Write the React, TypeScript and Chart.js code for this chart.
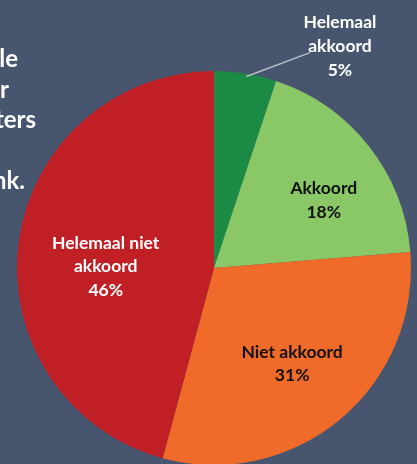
import React, { useEffect, useRef } from "react";
import { Chart, registerables } from "chart.js";

Chart.register(...registerables);

const categories = ["Helemaal akkoord", "Akkoord", "Niet akkoord", "Helemaal niet akkoord"];
const labelLines = [["Helemaal", "akkoord"], ["Akkoord"], ["Niet akkoord"], ["Helemaal niet", "akkoord"]];
const values = [5.1, 18.6, 30.5, 45.8];
const percentLabels = ["5%", "18%", "31%", "46%"];
const sliceColors = ["#1b8a45", "#8ac766", "#f06b29", "#c01f25"];
const labelColors = ["#ffffff", "#111111", "#111111", "#ffffff"];
const sideText = ["le", "r", "ters", "", "nk."];

const BG = "#47566e";

const labelPlugin = {
  id: "sliceLabels",
  afterDraw(chart: any) {
    const ctx = chart.ctx;
    const meta = chart.getDatasetMeta(0);
    ctx.save();
    // side text (cropped slide text)
    ctx.fillStyle = "#ffffff";
    ctx.font = "bold 24px Lato, sans-serif";
    ctx.textAlign = "right";
    ctx.textBaseline = "alphabetic";
    const sideRight = [18, 9, 36, 0, 25];
    sideText.forEach((t, i) => {
      if (!t) return;
      ctx.fillText(t, sideRight[i], 67 + i * 30.5);
    });

    const radial = [1.295, 0.66, 0.62, 0.55];
    const angOff = [0.356, 0.1, 0, -0.1];
    const lineH = [24, 24, 22.5, 23.5];
    meta.data.forEach((arc: any, i: number) => {
      const { x, y, startAngle, endAngle, outerRadius } = arc.getProps(
        ["x", "y", "startAngle", "endAngle", "outerRadius"],
        true
      );
      const mid = (startAngle + endAngle) / 2 + angOff[i];
      const r = outerRadius * radial[i];
      const cx = x + Math.cos(mid) * r;
      const cy = y + Math.sin(mid) * r + 2;
      const lines = [...labelLines[i], percentLabels[i]];
      ctx.font = "bold 17.5px Lato, sans-serif";
      ctx.textAlign = "center";
      ctx.textBaseline = "middle";
      ctx.fillStyle = labelColors[i];
      const top = cy - ((lines.length - 1) * lineH[i]) / 2 - (i === 0 ? 1.5 : 0);
      lines.forEach((l, j) => ctx.fillText(l, cx, top + j * lineH[i]));
      if (i === 0) {
        // leader line
        const ea = (startAngle + endAngle) / 2;
        const sx = x + Math.cos(ea) * outerRadius;
        const sy = y + Math.sin(ea) * outerRadius;
        ctx.strokeStyle = "#b7bec8";
        ctx.lineWidth = 1.5;
        ctx.beginPath();
        ctx.moveTo(sx + 1, sy + 3);
        ctx.lineTo(cx - 30, top + lineH[i] + 6);
        ctx.stroke();
      }
    });
    ctx.restore();
  },
};

export default function App() {
  const ref = useRef<HTMLCanvasElement>(null);
  useEffect(() => {
    document.body.style.margin = "0";
    document.body.style.overflow = "hidden";
    document.documentElement.style.overflow = "hidden";
    const chart = new Chart(ref.current!, {
      type: "pie",
      data: {
        labels: categories,
        datasets: [
          {
            data: values,
            backgroundColor: sliceColors,
            borderWidth: 0,
          },
        ],
      },
      options: {
        animation: false,
        responsive: false,
        maintainAspectRatio: false,
        layout: { padding: { left: 17, right: 6, top: 71, bottom: 15 } },
        plugins: {
          legend: { display: false },
          tooltip: { enabled: false },
        },
      },
      plugins: [labelPlugin],
    });
    return () => chart.destroy();
  }, []);
  return (
    <div style={{ position: "fixed", left: 0, top: 0, width: 417, height: 480, background: BG, overflow: "hidden" }}>
      <canvas ref={ref} width={417} height={480} style={{ display: "block" }} />
    </div>
  );
}
